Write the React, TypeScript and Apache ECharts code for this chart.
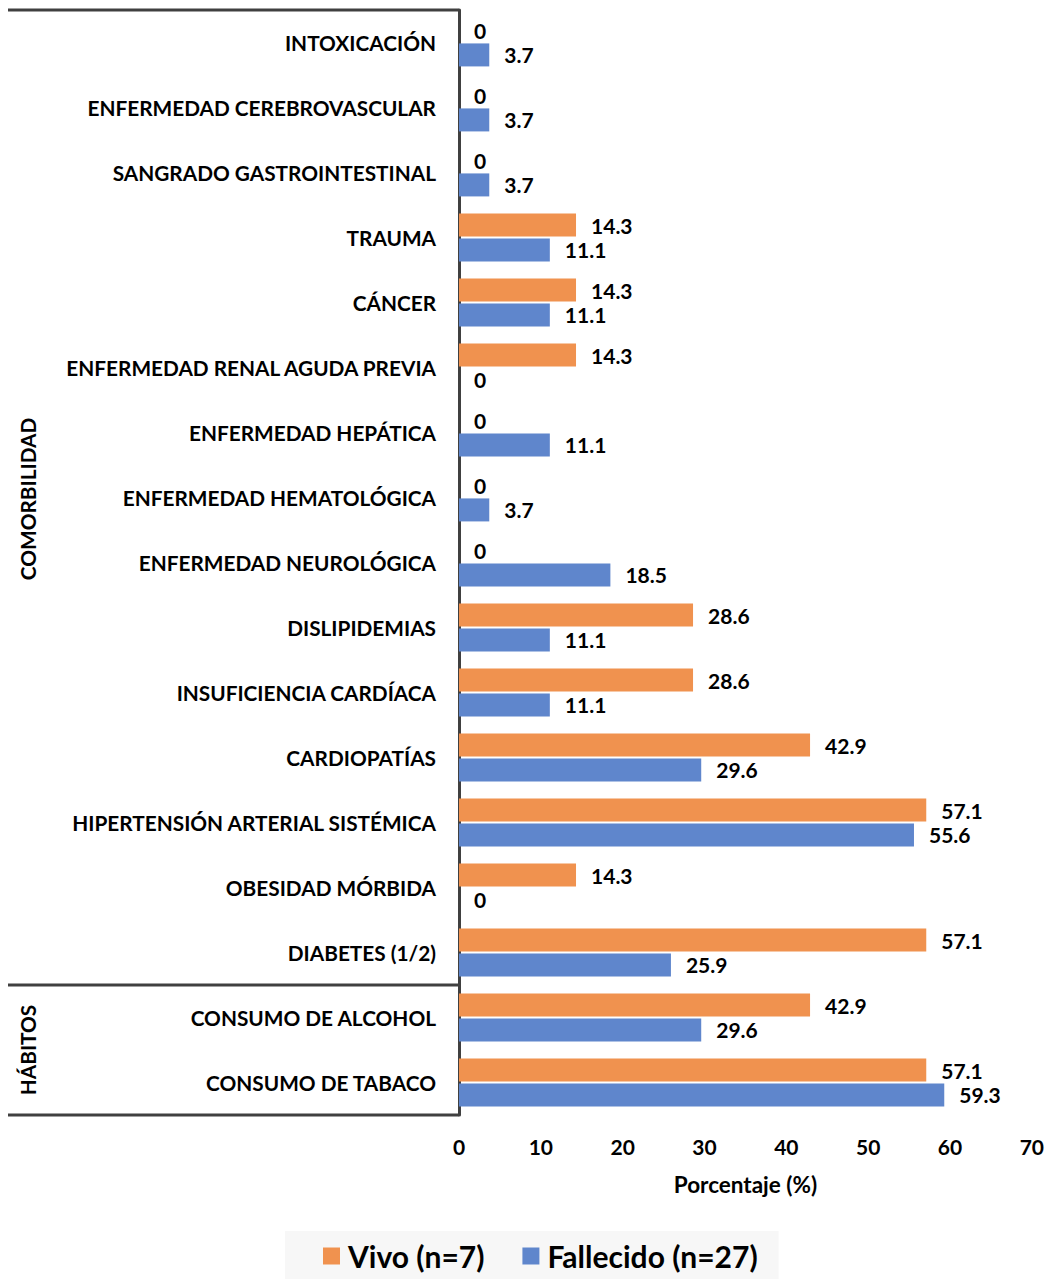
import React, { useEffect, useRef } from "react";
import * as echarts from "echarts";

const categories = [
  "INTOXICACIÓN",
  "ENFERMEDAD CEREBROVASCULAR",
  "SANGRADO GASTROINTESTINAL",
  "TRAUMA",
  "CÁNCER",
  "ENFERMEDAD RENAL AGUDA PREVIA",
  "ENFERMEDAD HEPÁTICA",
  "ENFERMEDAD HEMATOLÓGICA",
  "ENFERMEDAD NEUROLÓGICA",
  "DISLIPIDEMIAS",
  "INSUFICIENCIA CARDÍACA",
  "CARDIOPATÍAS",
  "HIPERTENSIÓN ARTERIAL SISTÉMICA",
  "OBESIDAD MÓRBIDA",
  "DIABETES (1/2)",
  "CONSUMO DE ALCOHOL",
  "CONSUMO DE TABACO",
];

const vivo = [0, 0, 0, 14.3, 14.3, 14.3, 0, 0, 0, 28.6, 28.6, 42.9, 57.1, 14.3, 57.1, 42.9, 57.1];
const fallecido = [3.7, 3.7, 3.7, 11.1, 11.1, 0, 11.1, 3.7, 18.5, 11.1, 11.1, 29.6, 55.6, 0, 25.9, 29.6, 59.3];

const xTicks = { min: 0, max: 70, interval: 10 };
const seriesNames = ["Vivo (n=7)", "Fallecido (n=27)"];
const groupLabels = ["COMORBILIDAD", "HÁBITOS"];

const FONT = "Lato";
const ORANGE = "#F0924F";
const BLUE = "#5F86CC";
const LINE = "#404040";

export default function App() {
  const ref = useRef<HTMLDivElement>(null);
  useEffect(() => {
    if (!ref.current) return;
    const chart = echarts.init(ref.current, undefined, { renderer: "svg" });
    const labelStyle = {
      show: true,
      position: "right" as const,
      distance: 15,
      fontFamily: FONT,
      fontWeight: "bold" as const,
      fontSize: 21,
      color: "#000",
    };
    chart.setOption({
      animation: false,
      backgroundColor: "#fff",
      grid: { left: 459, right: 15, top: 10, bottom: 165, containLabel: false },
      xAxis: {
        type: "value",
        min: xTicks.min,
        max: xTicks.max,
        interval: xTicks.interval,
        splitLine: { show: false },
        axisLine: { show: false },
        axisTick: { show: false },
        axisLabel: {
          margin: 21,
          fontFamily: FONT,
          fontWeight: "bold",
          fontSize: 21,
          color: "#000",
        },
        name: "Porcentaje (%)",
        nameLocation: "middle",
        nameGap: 58,
        nameTextStyle: { fontFamily: FONT, fontWeight: "bold", fontSize: 22.5, color: "#000" },
      },
      yAxis: {
        type: "category",
        data: categories,
        inverse: true,
        axisLine: { show: true, lineStyle: { color: LINE, width: 3 } },
        axisTick: { show: false },
        axisLabel: {
          margin: 23,
          fontFamily: FONT,
          fontWeight: "bold",
          fontSize: 20.8,
          color: "#000",
        },
      },
      legend: {
        data: seriesNames,
        left: 285,
        top: 1231,
        padding: [10, 21, 8, 38],
        backgroundColor: "#f7f7f7",
        icon: "rect",
        itemWidth: 17,
        itemHeight: 17,
        itemGap: 38,
        textStyle: {
          fontFamily: FONT,
          fontWeight: "bold",
          fontSize: 30,
          color: "#000",
          padding: [0, 0, 0, 3],
        },
      },
      graphic: [
        { type: "line", shape: { x1: 8, y1: 10, x2: 459, y2: 10 }, style: { stroke: LINE, lineWidth: 3 } },
        { type: "line", shape: { x1: 8, y1: 985, x2: 459, y2: 985 }, style: { stroke: LINE, lineWidth: 3 } },
        { type: "line", shape: { x1: 8, y1: 1115, x2: 459, y2: 1115 }, style: { stroke: LINE, lineWidth: 3 } },
        {
          type: "text",
          x: 27,
          y: 499,
          rotation: Math.PI / 2,
          style: {
            text: groupLabels[0],
            fontFamily: FONT,
            fontWeight: "bold",
            fontSize: 20.8,
            fill: "#000",
            align: "center",
            verticalAlign: "middle",
          },
        },
        {
          type: "text",
          x: 27,
          y: 1050,
          rotation: Math.PI / 2,
          style: {
            text: groupLabels[1],
            fontFamily: FONT,
            fontWeight: "bold",
            fontSize: 20.8,
            fill: "#000",
            align: "center",
            verticalAlign: "middle",
          },
        },
      ],
      series: [
        {
          name: seriesNames[0],
          type: "bar",
          data: vivo,
          barWidth: 23,
          barGap: "8%",
          itemStyle: { color: ORANGE },
          label: labelStyle,
        },
        {
          name: seriesNames[1],
          type: "bar",
          data: fallecido,
          barWidth: 23,
          barGap: "8%",
          itemStyle: { color: BLUE },
          label: labelStyle,
        },
      ],
    });
    return () => chart.dispose();
  }, []);
  return (
    <div
      ref={ref}
      style={{ position: "fixed", left: 0, top: 0, width: 1047, height: 1280 }}
    />
  );
}
